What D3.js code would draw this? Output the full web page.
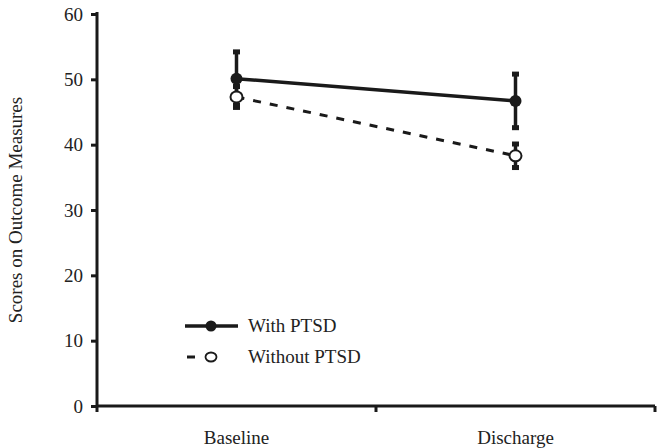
<!DOCTYPE html>
<html><head><meta charset="utf-8">
<script src="https://cdn.jsdelivr.net/npm/d3@7"></script>
</head><body style="margin:0;background:#fff"><svg id="c" width="662" height="448" style="display:block" font-family="'Liberation Serif', 'Times New Roman', Tinos, serif"></svg>
<script>
const categories = ["Baseline", "Discharge"];
const withPTSD = [50.1, 46.7];
const withPTSDErr = [4.1, 4.1];
const withoutPTSD = [47.3, 38.3];
const withoutPTSDErr = [1.6, 1.8];
const yTicks = [0, 10, 20, 30, 40, 50, 60];
const seriesNames = ["With PTSD", "Without PTSD"];

const svg = d3.select("#c");
const m = {l: 97, r: 655, t: 14, b: 406};
const x = d3.scaleBand().domain(categories).range([m.l, m.r]);
const y = d3.scaleLinear().domain([0, 60]).range([m.b, m.t]);
const col = "#1a1a1a";
const ff = "'Liberation Serif', 'Times New Roman', Tinos, serif";
const fs = 19;
const txt = sel => sel.attr("font-family", ff).attr("font-size", fs).attr("fill", "#222");

const ya = svg.append("g").attr("transform", `translate(${m.l},0)`)
  .call(d3.axisLeft(y).tickValues(yTicks).tickSize(6).tickPadding(8));
ya.attr("font-family", ff).attr("font-size", fs);
ya.select(".domain").attr("stroke", col).attr("stroke-width", 3).attr("d", `M0,${m.b}V${m.t - 2}`);
ya.selectAll(".tick line").attr("stroke", col).attr("stroke-width", 3);
ya.selectAll(".tick text").call(txt);

const xa = svg.append("g").attr("transform", `translate(0,${m.b})`)
  .call(d3.axisBottom(x).tickSize(0).tickPadding(25));
xa.attr("font-family", ff).attr("font-size", fs);
xa.select(".domain").attr("stroke", col).attr("stroke-width", 3).attr("d", `M${m.l},0H${m.r}`);
xa.selectAll(".tick text").call(txt);
const bounds = [m.l, m.l + x.bandwidth(), m.r];
xa.selectAll(".bt").data(bounds).enter().append("line")
  .attr("x1", d => d).attr("x2", d => d).attr("y1", 0).attr("y2", 6)
  .attr("stroke", col).attr("stroke-width", 3);

svg.append("text").attr("transform", `translate(22,${(m.t + m.b) / 2}) rotate(-90)`)
  .attr("text-anchor", "middle").call(txt).text("Scores on Outcome Measures");

const cx = c => x(c) + x.bandwidth() / 2;
const line = d3.line().x(d => cx(d[0])).y(d => y(d[1]));

function errBars(vals, errs) {
  categories.forEach((c, i) => {
    const X = cx(c);
    svg.append("line").attr("x1", X).attr("x2", X)
      .attr("y1", y(vals[i] - errs[i])).attr("y2", y(vals[i] + errs[i]))
      .attr("stroke", col).attr("stroke-width", 3.5);
    [vals[i] - errs[i], vals[i] + errs[i]].forEach(v => {
      svg.append("rect").attr("x", X - 3.5).attr("y", y(v) - 2.5).attr("width", 7).attr("height", 5).attr("fill", col);
    });
  });
}

errBars(withoutPTSD, withoutPTSDErr);
svg.append("path").datum(categories.map((c, i) => [c, withoutPTSD[i]])).attr("d", line)
  .attr("fill", "none").attr("stroke", col).attr("stroke-width", 3).attr("stroke-dasharray", "8,9");
errBars(withPTSD, withPTSDErr);
svg.append("path").datum(categories.map((c, i) => [c, withPTSD[i]])).attr("d", line)
  .attr("fill", "none").attr("stroke", col).attr("stroke-width", 3.5);

categories.forEach((c, i) => {
  svg.append("ellipse").attr("cx", cx(c)).attr("cy", y(withoutPTSD[i])).attr("rx", 6).attr("ry", 5.5)
    .attr("fill", "#fff").attr("stroke", col).attr("stroke-width", 2);
  svg.append("circle").attr("cx", cx(c)).attr("cy", y(withPTSD[i])).attr("r", 6).attr("fill", col);
});

const lg = svg.append("g");
lg.append("line").attr("x1", 185).attr("x2", 238).attr("y1", 326).attr("y2", 326).attr("stroke", col).attr("stroke-width", 3.5);
lg.append("circle").attr("cx", 211).attr("cy", 326).attr("r", 5.5).attr("fill", col);
lg.append("text").attr("x", 248).attr("y", 332).call(txt).text(seriesNames[0]);
lg.append("line").attr("x1", 187).attr("x2", 195).attr("y1", 357).attr("y2", 357).attr("stroke", col).attr("stroke-width", 3);
lg.append("ellipse").attr("cx", 211).attr("cy", 357).attr("rx", 5.5).attr("ry", 4.5).attr("fill", "#fff").attr("stroke", col).attr("stroke-width", 1.8);
lg.append("text").attr("x", 248).attr("y", 363).call(txt).text(seriesNames[1]);
</script></body></html>
